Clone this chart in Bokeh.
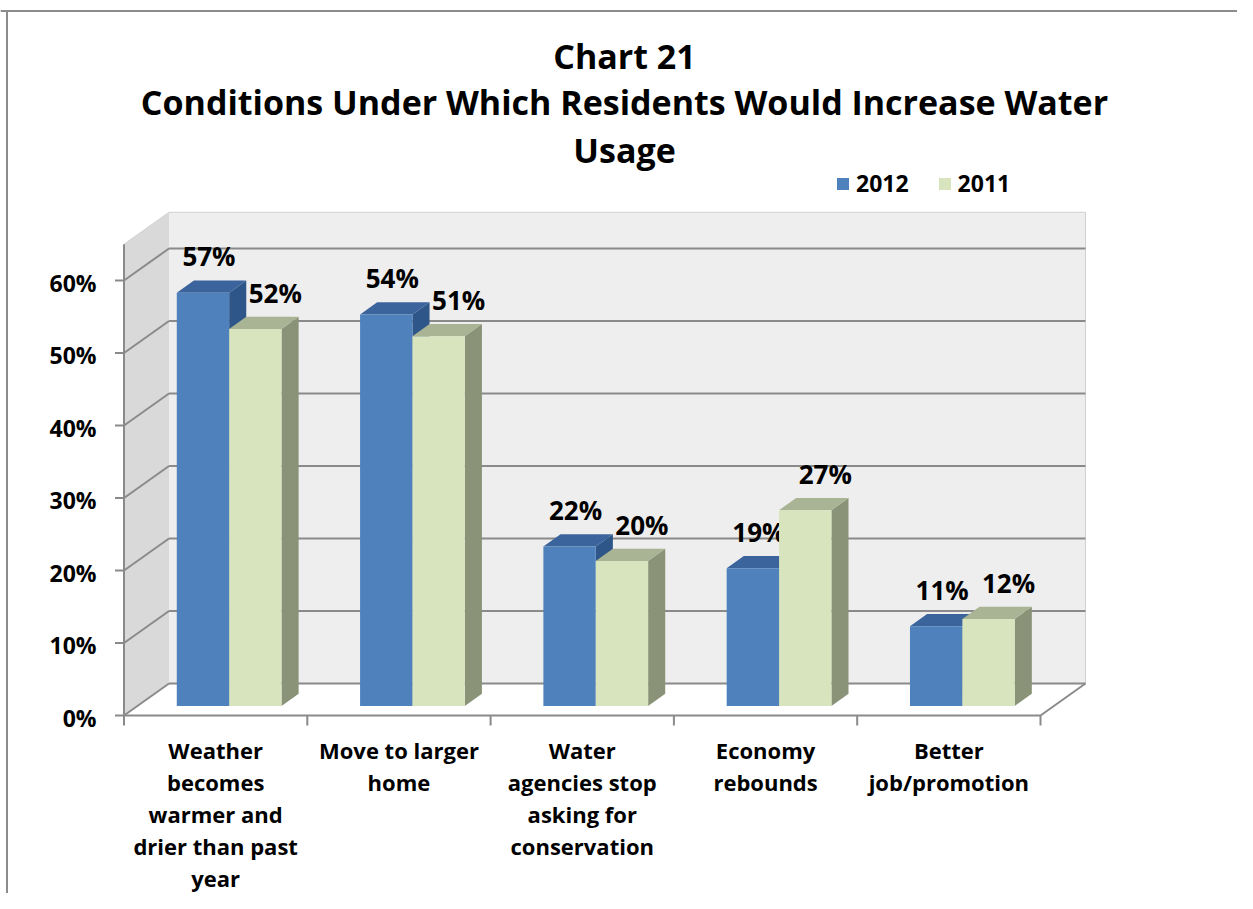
from bokeh.plotting import figure
from bokeh.models import Range1d, Legend, LegendItem
from bokeh.embed import file_html
from bokeh.resources import INLINE
from bokeh.core.properties import value

# ---------------- data ----------------
title_lines = ["Chart 21",
               "Conditions Under Which Residents Would Increase Water",
               "Usage"]
categories = ["Weather\nbecomes\nwarmer and\ndrier than past\nyear",
              "Move to larger\nhome",
              "Water\nagencies stop\nasking for\nconservation",
              "Economy\nrebounds",
              "Better\njob/promotion"]
series_names = ["2012", "2011"]
values_2012 = [57, 54, 22, 19, 11]
values_2011 = [52, 51, 20, 27, 12]
y_ticks = [0, 10, 20, 30, 40, 50, 60]
y_tick_labels = ["0%", "10%", "20%", "30%", "40%", "50%", "60%"]
y_max = 65

# ---------------- layout / style ----------------
W, H = 1237, 893
PX_X = 183.3            # pixels per category
PX_Y = 7.25             # pixels per percentage point
ORX, ORY = 123.5, 715   # picture position of the front-plane origin

def X(px):  # picture x -> data x
    return (px - ORX) / PX_X

def Y(py):  # picture y -> data y
    return (ORY - py) / PX_Y

def dX(px):
    return px / PX_X

def dY(px):
    return px / PX_Y

DX, DY = dX(45), dY(32)         # full depth of the 3D box
F0, F1 = 0.30, 0.68             # bar front / back depth fractions
BW = 1 / 3.5                    # bar width (gap width 150%)
SDX, SDY = (F1 - F0) * DX, (F1 - F0) * DY

FONT = value("Open Sans")
GRID = "#8a8a8a"
BLUE = ("#4f81bd", "#3b639c", "#2f5689")
GREEN = ("#d7e4bd", "#a9b494", "#8a9378")

p = figure(width=W, height=H, output_backend="svg", toolbar_location=None,
           title=None,
           x_range=Range1d(X(0), X(W)),
           y_range=Range1d(Y(H), Y(0)),
           x_axis_type=None, y_axis_type=None, min_border=0,
           outline_line_color=None, background_fill_color="white",
           border_fill_color="white")
p.grid.visible = False

n = len(categories)

# walls & floor
p.quad(left=[DX], right=[n + DX], bottom=[DY], top=[y_max + DY],
       fill_color="#eeeeee", line_color=None)
p.patch([0, DX, DX, 0], [0, DY, y_max + DY, y_max],
        fill_color="#d9d9d9", line_color=None)
p.patch([0, n, n + DX, DX], [0, 0, DY, DY], fill_color="white", line_color=None)
# faint wall edges
p.line([0, DX, n + DX, n + DX], [y_max, y_max + DY, y_max + DY, DY],
       line_color="#d0d0d0", line_width=1)

# gridlines (back wall + side wall)
p.multi_line([[DX, n + DX] for t in y_ticks], [[t + DY, t + DY] for t in y_ticks],
             line_color=GRID, line_width=2)
p.multi_line([[0, DX] for t in y_ticks], [[t, t + DY] for t in y_ticks],
             line_color=GRID, line_width=2)

# axes lines, floor edge, ticks
p.line([0, 0], [0, y_max], line_color=GRID, line_width=2)
p.line([0, n, n + DX], [0, 0, DY], line_color=GRID, line_width=2)
p.multi_line([[-dX(9), 0] for t in y_ticks], [[t, t] for t in y_ticks],
             line_color=GRID, line_width=2)
p.multi_line([[i, i] for i in range(n + 1)], [[0, -dY(10)] for i in range(n + 1)],
             line_color=GRID, line_width=2)

# bars
def bar_geometry(vals, k):
    lefts = [i + 0.5 - BW + k * BW + F0 * DX for i in range(n)]
    rights = [l + BW for l in lefts]
    bots = [F0 * DY] * n
    tops = [v + F0 * DY for v in vals]
    top_xs = [[l, r, r + SDX, l + SDX] for l, r in zip(lefts, rights)]
    top_ys = [[t, t, t + SDY, t + SDY] for t in tops]
    side_xs = [[r, r + SDX, r + SDX, r] for r in rights]
    side_ys = [[b, b + SDY, t + SDY, t] for b, t in zip(bots, tops)]
    return lefts, rights, bots, tops, top_xs, top_ys, side_xs, side_ys

fronts = []
for k, (vals, cols) in enumerate([(values_2012, BLUE), (values_2011, GREEN)]):
    l, r, b, t, txs, tys, sxs, sys_ = bar_geometry(vals, k)
    p.patches(sxs, sys_, fill_color=cols[2], line_color=None)
    p.patches(txs, tys, fill_color=cols[1], line_color=None)
    fronts.append(p.quad(left=l, right=r, bottom=b, top=t,
                         fill_color=cols[0], line_color=None))
    off = dX(6) if k == 0 else dX(20)
    p.text(x=[(a + c) / 2 + off for a, c in zip(l, r)],
           y=[v + F1 * DY + dY(24) for v in vals],
           text=[f"{v}%" for v in vals],
           text_font=FONT, text_font_style="bold", text_font_size="26px",
           text_align="center", text_baseline="middle", text_color="black")

# y tick labels
p.text(x=[X(96)] * len(y_ticks), y=[t - dY(2) for t in y_ticks], text=y_tick_labels,
       text_font=FONT, text_font_style="bold", text_font_size="23px",
       text_align="right", text_baseline="middle", text_color="black")

# category labels
cx, cy, ct = [], [], []
for i, c in enumerate(categories):
    for j, line in enumerate(c.split("\n")):
        cx.append(i + 0.5)
        cy.append(Y(749) - j * dY(32.2))
        ct.append(line)
p.text(x=cx, y=cy, text=ct, text_font=FONT, text_font_style="bold",
       text_font_size="22px", text_align="center", text_baseline="middle",
       text_color="black")

# title
p.text(x=[X(624)] * 3, y=[Y(55), Y(101), Y(149)], text=title_lines,
       text_font=FONT, text_font_style="bold", text_font_size="34px",
       text_align="center", text_baseline="middle", text_color="black")

# outer border (top and left visible)
p.line([X(0), X(W)], [Y(10.5), Y(10.5)], line_color="#8c8c8c", line_width=2)
p.line([X(6.5), X(6.5)], [Y(10.5), Y(H)], line_color="#8c8c8c", line_width=2)

legend = Legend(items=[LegendItem(label=series_names[0], renderers=[fronts[0]]),
                       LegendItem(label=series_names[1], renderers=[fronts[1]])],
                orientation="horizontal", location=(835, 694), padding=0, margin=0,
                spacing=28, glyph_width=15, glyph_height=15, label_standoff=6,
                border_line_color=None, background_fill_alpha=0,
                label_text_font="Open Sans", label_text_font_style="bold",
                label_text_font_size="23px", label_text_color="black")
p.add_layout(legend)

open("out.html", "w").write(file_html(p, INLINE))
